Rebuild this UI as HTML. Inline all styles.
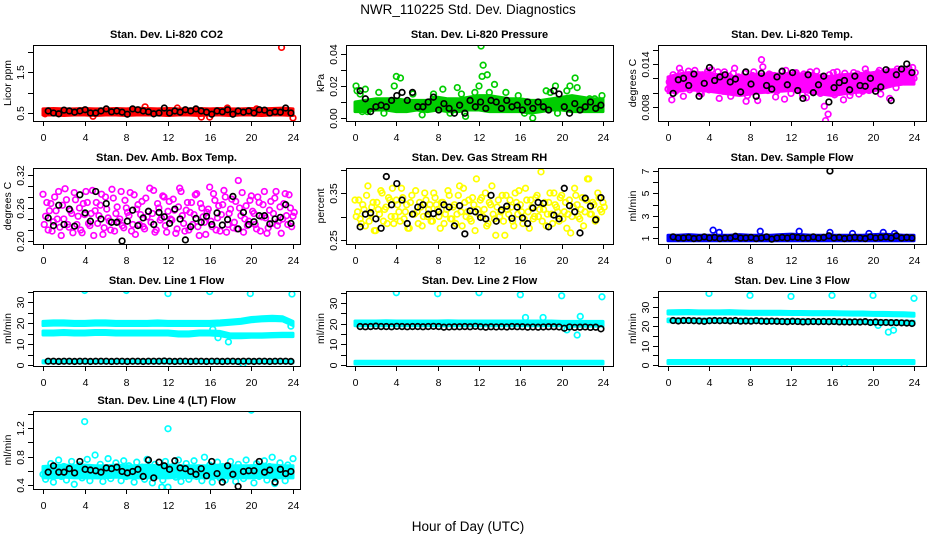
<!DOCTYPE html>
<html><head><meta charset="utf-8">
<style>
html,body{margin:0;padding:0;background:#fff;}
svg{display:block;font-family:"Liberation Sans",Arial,sans-serif;}
</style></head>
<body>
<svg id="chart" width="936" height="540" viewBox="0 0 936 540" xmlns="http://www.w3.org/2000/svg">
<text x="468" y="14" text-anchor="middle" font-size="13.5">NWR_110225  Std. Dev. Diagnostics</text>
<text x="468" y="531" text-anchor="middle" font-size="13.5">Hour of Day (UTC)</text>
</svg>
<script>
// ---------- data ----------
const xTicks=[0,4,8,12,16,20,24];
const xTickLabels=["0","4","8","12","16","20","24"];

// CO2 (ppm)
const co2Lo=[0.45,0.45,0.44,0.45,0.45,0.44,0.45,0.45,0.44,0.45,0.45,0.45,0.44,0.45,0.45,0.44,0.45,0.45,0.44,0.45,0.45,0.44,0.45,0.45,0.44];
const co2Hi=[0.60,0.61,0.60,0.60,0.61,0.60,0.60,0.61,0.60,0.62,0.61,0.60,0.61,0.60,0.60,0.61,0.60,0.61,0.60,0.60,0.61,0.60,0.61,0.62,0.60];
const co2ExX=[0.2,4.8,9.8,12.9,15.2,16.0,20.5,22.9,24.0,17.7];
const co2ExY=[0.48,0.42,0.65,0.62,0.40,0.40,0.60,2.10,0.38,0.62];
const co2Blk=[0.55,0.50,0.48,0.57,0.55,0.52,0.55,0.58,0.50,0.50,0.55,0.60,0.53,0.55,0.52,0.47,0.60,0.58,0.55,0.53,0.48,0.50,0.62,0.50,0.55,0.52,0.58,0.55,0.60,0.55,0.52,0.47,0.55,0.53,0.58,0.47,0.55,0.52,0.55,0.50,0.58,0.57,0.50,0.53,0.52,0.62,0.50];

// Pressure (x0.001 kPa)
const presLo=[4,4,5,5,4,4,5,4,5,4,4,5,5,4,4,4,4,3,4,5,5,4,4,4,4];
const presHi=[10,11,12,12,12,11,11,11,13,12,12,13,14,14,13,12,12,11,11,12,13,14,13,12,12];
const presExX=[0.1,0.2,0.5,0.7,1.0,1.2,2.3,2.8,3.8,4.0,4.4,5.6,6.5,7.6,8.5,9.2,9.9,10.3,10.7,11.6,12.0,12.2,12.3,12.4,12.8,13.0,13.5,14.6,15.8,16.4,17.2,18.5,18.9,19.4,19.6,20.5,20.8,21.3,21.5,22.7,23.2,23.9];
const presExY=[20,17,15,4,18,4,16,3,20,26,25,15,2,15,18,3,19,15,1,16,20,45,26,33,27,16,21,16,14,3,0,17,16,20,3,17,20,25,19,12,12,14];
const presBlk=[17,12,4,7,8,7,11,14,16,11,16,7,7,10,13,5,9,6,3,8,3,11,7,10,6,11,10,6,11,7,8,5,10,6,10,7,5,17,15,7,3,9,5,7,10,6,8];

// Li-820 Temp (x0.001 C)
const tempLo=[10.0,10.2,10.4,10.3,10.2,10.0,9.8,9.6,9.8,10.0,10.1,10.2,10.3,10.2,10.0,9.8,9.6,9.8,10.0,10.1,10.2,10.6,11.0,11.2,11.2];
const tempHi=[12.2,12.6,12.8,12.8,12.6,12.5,12.3,12.2,12.4,12.6,12.6,12.6,12.7,12.6,12.4,12.2,12.3,12.5,12.6,12.6,12.8,13.0,13.2,13.3,13.0];
const tempA=[10.5,11.8,12.5,10.2,11.0,12.8,9.5,11.5,13.0,12.2,10.8,11.6,12.4,9.8,11.9,12.6,10.4,13.2,11.1,12.0,9.2,11.7,12.9,10.6,12.3,11.4,13.4,10.0,12.1,11.3,12.7,9.6,11.8,12.4,10.9,8.9,12.0,13.6,11.2,10.3,12.5,11.0,9.4,12.2,11.6,10.7,13.1,12.3,9.9,11.5,12.8,10.5,11.9,12.6,9.3,11.1,12.4,10.1,13.0,11.7,12.2,8.1,10.8,12.5,11.4,9.7,12.9,11.0,10.3,12.7,11.8,9.6,12.1,10.9,12.6,11.3,10.2,13.3,11.9,12.4,10.6,11.5,12.8,9.8,11.2,12.3,13.0,11.6,12.5,10.7,12.9,13.2,12.1,11.8,13.4,12.6,12.0];
const tempB=[11.5,9.0,12.0,11.0,13.4,10.6,12.3,11.9,10.4,12.6,13.1,11.2,10.0,12.5,11.6,13.0,12.1,10.8,11.4,12.9,11.7,10.2,12.4,11.1,9.5,12.7,11.8,12.2,10.9,11.5,8.8,11.0,10.6,12.9,11.5,12.3,14.6,11.9,10.5,12.6,11.1,12.4,10.2,11.8,12.9,9.1,11.4,12.0,11.3,12.7,10.4,11.9,9.7,12.4,11.6,12.9,10.8,11.3,12.1,9.9,11.5,6.1,7.0,10.5,12.8,11.3,10.6,12.0,9.0,11.4,12.2,10.1,12.8,11.6,9.8,12.4,11.1,12.7,10.3,11.8,12.5,11.0,13.1,10.8,12.2,11.6,9.2,12.9,11.4,13.3,12.0,12.7,11.5,13.0,12.3,13.5,12.8];
const tempBlk=[9.9,11.8,12.0,11.0,12.6,9.5,11.3,13.5,11.7,12.2,12.5,11.5,11.9,10.1,12.9,11.2,9.5,12.7,11.0,10.5,12.2,13.0,11.1,12.8,10.3,9.2,12.5,10.0,11.1,12.3,8.7,10.7,11.4,11.7,10.4,12.3,11.0,10.9,12.0,10.2,10.8,13.2,8.9,12.5,13.3,14.0,12.8];

// Amb box temp (x0.01 C)
const ambA=[28.5,24.5,22.0,26.8,23.5,25.5,29.0,21.0,24.0,27.5,22.5,25.0,28.8,23.0,26.0,21.5,24.8,27.0,22.8,29.2,25.5,23.2,26.5,21.2,28.0,24.2,22.0,27.8,25.0,23.5,29.0,22.4,26.0,24.6,21.8,28.4,25.8,23.0,27.2,22.2,24.4,29.6,25.0,21.6,26.8,23.8,28.2,22.8,25.4,24.0,27.6,21.4,26.2,29.0,23.2,25.6,22.0,27.0,24.8,28.6,21.0,26.0,23.4,25.2,29.8,22.6,27.4,24.2,21.8,26.6,28.0,23.0,25.8,22.4,27.2,31.0,24.6,21.6,26.4,23.6,28.2,25.0,22.2,27.0,24.4,29.0,21.4,25.6,23.2,27.8,22.8,26.2,24.0,28.6,23.0,26.0,24.5];
const ambB=[23.0,27.0,25.5,21.8,28.0,24.0,22.5,26.5,29.5,23.0,25.5,21.5,27.5,24.5,22.0,26.8,29.0,23.2,25.0,21.0,27.0,24.6,28.5,22.4,25.8,23.6,29.4,21.8,26.2,24.0,22.8,27.4,25.2,28.8,23.0,21.2,26.6,24.8,22.6,27.8,25.4,23.4,29.2,22.0,26.0,24.2,28.0,21.6,27.2,23.8,25.6,22.2,29.6,24.6,21.8,27.0,25.2,23.0,28.4,22.6,26.8,24.4,21.2,25.8,23.6,28.6,22.0,26.4,24.8,29.2,21.6,25.0,27.6,23.4,22.2,26.0,28.8,24.0,22.8,27.4,25.4,23.0,28.0,21.8,26.6,24.2,22.4,27.2,25.0,29.0,23.6,21.4,26.8,24.6,28.4,22.6,25.2];
const ambBlk=[24.2,22.8,26.5,23.0,25.8,22.7,28.4,25.1,23.6,29.0,24.0,26.8,23.4,23.4,20.0,23.6,25.6,22.8,24.2,25.4,23.0,25.2,24.4,23.2,25.8,24.0,20.2,22.6,24.1,23.4,24.5,23.0,25.1,22.9,23.9,28.1,22.2,25.2,23.0,23.5,24.6,24.6,23.1,24.0,24.3,26.6,23.2];

// Gas stream RH (x0.01 percent)
const rhA=[33.5,31.0,29.5,32.5,28.0,36.5,30.5,33.0,27.0,31.5,35.5,29.0,32.0,34.0,30.0,28.5,33.5,31.0,36.0,29.5,32.5,27.5,34.5,30.5,31.0,33.0,28.0,35.0,30.0,32.5,29.0,34.0,31.5,27.5,33.0,30.5,35.5,29.5,32.0,28.5,34.5,31.0,36.0,30.0,33.5,29.0,32.5,38.0,30.5,34.0,31.5,28.0,33.0,36.5,29.5,32.0,30.0,34.5,26.0,31.5,33.5,29.0,35.0,30.5,32.5,28.5,36.0,31.0,33.5,29.5,34.0,30.0,39.5,31.5,28.0,33.0,30.5,35.0,32.0,29.0,34.5,31.0,27.5,33.5,30.0,36.0,32.5,29.5,34.0,31.0,38.0,30.5,33.0,29.0,35.0,31.5,33.0];
const rhB=[30.0,33.5,28.5,31.5,34.5,29.0,32.0,27.0,33.0,30.5,35.0,31.5,28.5,33.5,36.0,30.0,32.5,29.0,34.0,31.0,27.5,33.0,30.5,35.5,28.5,32.0,30.0,33.5,31.5,29.0,35.0,32.5,30.0,33.0,28.5,31.5,34.5,29.5,32.5,30.5,36.5,28.0,33.0,31.0,29.5,34.0,27.0,31.5,33.5,30.0,35.0,28.5,32.5,30.5,26.0,33.5,31.0,29.0,34.5,30.5,32.0,28.0,33.0,35.5,31.0,29.5,33.5,27.5,32.0,30.0,34.5,31.5,29.0,33.0,30.5,35.0,28.5,32.5,31.0,34.0,29.5,33.0,30.5,26.5,32.0,34.5,30.0,31.5,28.0,33.5,38.0,30.5,32.5,29.5,34.0,31.0,32.0];
const rhBlk=[27.8,30.5,30.8,29.5,27.5,38.5,32.5,37.0,33.5,28.5,30.5,32.0,32.5,30.5,30.6,31.0,32.5,32.0,28.0,32.3,26.3,31.2,31.0,29.8,29.5,34.5,29.0,31.4,32.2,29.6,32.0,29.7,28.5,31.8,33.0,32.8,27.8,30.3,29.5,36.0,32.3,31.0,26.5,33.9,32.2,29.3,34.0];

// Sample flow
const sfLo=[0.75,0.75,0.75,0.75,0.75,0.75,0.75,0.75,0.75,0.75,0.75,0.75,0.75,0.75,0.75,0.75,0.75,0.75,0.75,0.75,0.75,0.75,0.75,0.75,0.75];
const sfHi=[1.25,1.25,1.3,1.25,1.25,1.25,1.25,1.3,1.25,1.25,1.25,1.3,1.35,1.3,1.25,1.25,1.25,1.25,1.25,1.25,1.3,1.35,1.3,1.25,1.25];
const sfExX=[4.4,5.0,9.0,12.8,15.8,18.0,19.6,21.0,22.1];
const sfExY=[1.7,1.5,1.6,1.6,1.5,1.4,1.4,1.5,1.4];
const sfBlk=[1.1,1.0,1.0,1.05,0.95,1.0,1.1,1.0,1.05,0.95,1.0,1.0,1.15,1.0,1.0,1.05,0.95,1.0,1.1,0.9,1.0,1.05,1.0,1.1,1.05,1.0,1.0,1.1,1.0,1.05,1.2,1.0,1.05,0.95,1.0,1.05,1.0,0.95,1.1,1.0,1.05,1.1,1.0,1.2,1.0,1.05,1.0];
const sfBlkExX=[15.8];
const sfBlkExY=[7.0];

// Line 1 flow
const l1ALo=[18.8,19.0,19.0,18.8,18.8,19.0,19.0,18.8,18.8,18.8,18.8,18.9,18.8,18.8,18.8,18.8,18.8,19.0,19.4,19.8,20.6,21.0,21.2,21.0,18.8];
const l1AHi=[20.8,21.0,21.0,20.8,20.8,21.0,21.0,20.8,20.8,20.8,20.8,21.0,20.8,20.8,20.8,20.8,20.8,21.0,21.4,21.8,22.6,23.0,23.2,23.0,20.8];
const l1BLo=[14.3,14.3,14.5,14.3,14.3,14.5,14.5,14.3,14.3,14.3,14.3,14.3,14.3,13.8,13.8,14.3,14.3,14.0,13.0,13.0,13.2,13.2,13.4,13.5,13.5];
const l1BHi=[16.2,16.2,16.4,16.2,16.2,16.4,16.4,16.2,16.2,16.2,16.2,16.2,16.2,15.8,15.8,16.2,16.2,16.0,14.8,14.8,14.8,14.8,15.0,15.1,15.1];
const l1CLo=[1.0,1.0,1.0,1.0,1.0,1.0,1.0,1.0,1.0,1.0,1.0,1.0,1.0,1.0,1.0,1.0,1.0,1.0,1.0,1.0,1.0,1.0,1.0,1.0,1.0];
const l1CHi=[2.0,2.0,2.0,2.0,2.0,2.0,2.0,2.0,2.0,2.0,2.0,2.0,2.0,2.0,2.0,2.0,2.0,2.0,2.0,2.0,2.0,2.0,2.0,2.0,2.0];
const l1ExX=[4.0,8.0,12.0,16.0,19.9,23.9,16.8,17.8,23.8,16.3,19.2];
const l1ExY=[35.5,35.5,34.0,35.0,34.0,33.8,13.0,11.0,18.5,17.0,0.5];
const l1Blk=[1.8,1.8,1.7,1.8,1.8,1.7,1.8,1.8,1.7,1.8,1.8,1.8,1.7,1.8,1.8,1.7,1.8,1.8,1.7,1.8,1.8,1.8,1.9,1.8,1.7,1.8,1.8,1.7,1.8,1.8,1.7,1.8,1.8,1.7,1.8,1.8,1.7,1.8,1.8,1.7,1.8,1.8,1.7,1.8,1.8,1.8,1.7];

// Line 2 flow
const l2ALo=[19.0,19.0,19.0,19.0,19.0,19.0,19.0,19.0,19.0,19.0,19.0,19.0,19.0,19.0,19.0,19.0,19.0,19.0,19.0,19.0,19.0,18.8,18.8,18.8,18.8];
const l2AHi=[21.3,21.3,21.3,21.4,21.3,21.3,21.3,21.3,21.3,21.4,21.3,21.3,21.3,21.3,21.3,21.3,21.3,21.3,21.3,21.3,21.1,21.1,21.1,21.1,21.1];
const l2CLo=[0.5,0.5,0.5,0.5,0.5,0.5,0.5,0.5,0.5,0.5,0.5,0.5,0.5,0.5,0.5,0.5,0.5,0.5,0.5,0.5,0.5,0.5,0.5,0.5,0.5];
const l2CHi=[1.8,1.8,1.8,1.8,1.8,1.8,1.8,1.8,1.8,1.8,1.8,1.8,1.8,1.8,1.8,1.8,1.8,1.8,1.8,1.8,1.8,1.8,1.8,1.8,1.8];
const l2ExX=[4.0,8.0,12.0,16.0,20.0,23.9,16.5,18.2,21.8,21.5,20.5];
const l2ExY=[35.0,34.5,35.0,34.0,33.5,33.0,23.0,23.0,23.5,14.5,17.0];
const l2Blk=[18.6,18.5,18.6,18.8,18.6,18.6,18.5,18.7,18.6,18.5,18.6,18.6,18.5,18.6,18.7,18.6,18.3,18.4,18.5,18.5,18.6,18.5,18.7,18.5,18.3,18.5,18.4,18.5,18.4,18.6,18.5,18.5,18.3,18.4,18.3,18.4,18.5,18.5,18.4,17.8,18.4,18.2,18.3,18.4,18.2,18.3,17.5];

// Line 3 flow
const l3ALo=[26.4,26.4,26.5,26.4,26.4,26.4,26.4,26.3,26.2,26.2,26.2,26.2,26.1,26.1,26.0,26.0,26.0,25.9,25.8,25.8,25.7,25.6,25.5,25.4,25.2];
const l3AHi=[28.0,28.1,28.2,28.0,28.0,28.0,28.1,27.9,27.8,27.8,27.8,27.8,27.7,27.7,27.6,27.6,27.6,27.5,27.4,27.4,27.2,27.2,27.1,27.0,26.8];
const l3BLo=[22.4,22.4,22.4,22.3,22.3,22.3,22.2,22.2,22.2,22.1,22.1,22.0,22.0,22.0,21.9,21.9,21.8,21.8,21.7,21.7,21.4,21.2,21.2,21.1,21.0];
const l3BHi=[23.8,23.8,23.8,23.7,23.7,23.7,23.6,23.6,23.6,23.5,23.5,23.4,23.4,23.4,23.3,23.3,23.2,23.2,23.1,23.1,22.9,22.8,22.8,22.7,22.6];
const l3CLo=[0.7,0.7,0.7,0.7,0.7,0.7,0.7,0.7,0.7,0.7,0.7,0.7,0.7,0.7,0.7,0.7,0.7,0.7,0.7,0.7,0.7,0.7,0.7,0.7,0.7];
const l3CHi=[2.3,2.3,2.3,2.3,2.3,2.3,2.3,2.3,2.3,2.3,2.3,2.3,2.3,2.3,2.3,2.3,2.3,2.3,2.3,2.3,2.3,2.3,2.3,2.3,2.3];
const l3ExX=[4.0,8.0,12.0,16.0,20.0,24.0,21.5,22.0,20.5,17.2];
const l3ExY=[37.0,36.0,35.5,36.0,36.0,34.5,17.0,18.0,20.5,0.0];
const l3Blk=[23.0,22.8,23.0,23.0,22.9,22.8,22.6,22.9,23.0,22.9,23.0,22.8,23.0,22.7,22.8,22.7,22.9,22.7,22.6,22.7,22.6,22.5,22.4,22.6,22.5,22.3,22.4,22.5,22.4,22.5,22.4,22.5,22.3,22.3,22.2,22.3,22.2,22.4,22.0,22.2,22.0,22.0,21.9,21.9,21.8,21.7,21.5];

// Line 4 (LT) flow
const l4Lo=[0.50,0.50,0.51,0.50,0.50,0.50,0.50,0.51,0.50,0.50,0.50,0.50,0.50,0.51,0.50,0.50,0.50,0.50,0.50,0.50,0.50,0.51,0.50,0.50,0.50];
const l4Hi=[0.66,0.67,0.68,0.67,0.68,0.67,0.67,0.68,0.67,0.67,0.68,0.67,0.68,0.67,0.67,0.67,0.67,0.68,0.67,0.67,0.67,0.68,0.68,0.67,0.67];
const l4A=[0.55,0.48,0.62,0.70,0.44,0.58,0.75,0.52,0.66,0.47,0.60,0.73,0.41,0.57,0.68,0.50,0.64,0.76,0.46,0.59,0.82,0.53,0.69,0.45,0.61,0.77,0.49,0.56,0.71,0.63,0.46,0.74,0.52,0.67,0.58,0.44,0.72,0.55,0.65,0.48,0.76,0.60,0.43,0.69,0.54,0.62,0.47,0.73,0.37,0.58,0.66,0.51,0.75,0.45,0.63,0.70,0.48,0.57,0.74,0.52,0.64,0.46,0.79,0.55,0.68,0.44,0.61,0.72,0.50,0.66,0.47,0.58,0.73,0.53,0.45,0.69,0.62,0.49,0.75,0.56,0.64,0.43,0.70,0.52,0.60,0.74,0.47,0.66,0.79,0.42,0.58,0.71,0.54,0.46,0.68,0.60,0.77];
const l4ExX=[4.0,12.0,20.0,11.4];
const l4ExY=[1.29,1.19,1.45,0.37];
const l4Blk=[0.58,0.67,0.58,0.58,0.63,0.57,0.73,0.62,0.61,0.60,0.58,0.64,0.63,0.65,0.59,0.57,0.59,0.62,0.52,0.75,0.50,0.72,0.67,0.62,0.74,0.64,0.63,0.59,0.55,0.63,0.53,0.73,0.56,0.44,0.67,0.55,0.38,0.59,0.60,0.60,0.73,0.58,0.61,0.44,0.62,0.56,0.59];

// ---------- drawing ----------
const NS="http://www.w3.org/2000/svg";
const svg=document.getElementById('chart');
function mk(tag,attrs,parent){const e=document.createElementNS(NS,tag);for(const k in attrs)e.setAttribute(k,attrs[k]);(parent||svg).appendChild(e);return e;}

const colL=[33,346,658],colR=[300,613,926],colX0=[43,355,668],colX24=[293,603,914];
const rowT=[45,168,291,411],rowB=[121,244,366,489];

let pid=0;
function panel(p){
  pid++;
  const L=colL[p.c],R=colR[p.c],T=rowT[p.r],B=rowB[p.r];
  const xs=h=>colX0[p.c]+(colX24[p.c]-colX0[p.c])*h/24;
  const ys=v=>p.py1+(v-p.v1)*(p.py2-p.py1)/(p.v2-p.v1);
  const g=mk('g',{});
  
  
  const cp=mk('clipPath',{id:'cp'+pid},g);
  mk('rect',{x:L,y:T,width:R-L,height:B-T},cp);
  const t=mk('text',{x:(L+R)/2,y:T-7,'text-anchor':'middle','font-size':'11','font-weight':'bold'},g);
  t.textContent=p.title;
  
  
  const marks=mk('g',{'clip-path':'url(#cp'+pid+')'},g);
  
  
  (p.bands||[]).forEach(b=>{
    let pts=[];
    for(let i=0;i<b[0].length;i++)pts.push(xs(i*24/(b[0].length-1))+','+ys(b[1][i]));
    for(let i=b[0].length-1;i>=0;i--)pts.push(xs(i*24/(b[0].length-1))+','+ys(b[0][i]));
    const pg=mk('polygon',{points:pts.join(' '),fill:p.col,stroke:p.col,'stroke-width':3,'stroke-linejoin':'round'},marks);
    
    
  });
  const circ=(x,y,col)=>{const c=mk('circle',{cx:x,cy:y,r:2.8,fill:'none',stroke:col,'stroke-width':1.7},marks);
    
    };
  (p.scat||[]).forEach((arr,k)=>{arr.forEach((v,i)=>circ(xs(i*24/(arr.length-1)+k*0.12),ys(v),p.col));});
  if(p.exX)p.exX.forEach((x,i)=>circ(xs(x),ys(p.exY[i]),p.col));
  p.blk.forEach((v,i)=>circ(xs(0.5+i*23.3/(p.blk.length-1)),ys(v),'#000'));
  if(p.bexX)p.bexX.forEach((x,i)=>circ(xs(x),ys(p.bexY[i]),'#000'));
  const bx=mk('rect',{x:L+0.5,y:T+0.5,width:R-L,height:B-T,fill:'none',stroke:'#000','stroke-width':1},g);
  
  
  xTicks.forEach((h,i)=>{
    const x=Math.round(xs(h))+0.5;
    mk('line',{x1:x,x2:x,y1:B,y2:B+5,stroke:'#000'},g);
    const tl=mk('text',{x:x,y:B+20,'text-anchor':'middle','font-size':'10.5'},g);
    tl.textContent=xTickLabels[i];
    
    
  });
  p.yt.forEach((v,i)=>{
    const y=Math.round(ys(v))+0.5;
    mk('line',{x1:L-5,x2:L,y1:y,y2:y,stroke:'#000'},g);
    if(p.ytl[i]){
      const tl=mk('text',{x:0,y:0,'text-anchor':'middle','font-size':'10.5',transform:`translate(${L-9},${y}) rotate(-90)`},g);
      tl.textContent=p.ytl[i];
      
      
    }
  });
  const yl=mk('text',{x:0,y:0,'text-anchor':'middle','font-size':'10.5',transform:`translate(${L-22},${(T+B)/2}) rotate(-90)`},g);
  yl.textContent=p.ylab;
  
  
}

panel({name:'co2',title:'Stan. Dev. Li-820 CO2',c:0,r:0,col:'#ff0000',ylab:'Licor ppm',v1:0.5,py1:113,v2:1.5,py2:72,
  yt:[0.5,1,1.5,2],ytl:['0.5','','1.5',''],bands:[[co2Lo,co2Hi]],exX:co2ExX,exY:co2ExY,blk:co2Blk});
panel({name:'pressure',title:'Stan. Dev. Li-820 Pressure',c:1,r:0,col:'#00cd00',ylab:'kPa',v1:0,py1:118,v2:40,py2:54,
  yt:[0,10,20,30,40],ytl:['0.00','','0.02','','0.04'],bands:[[presLo,presHi]],exX:presExX,exY:presExY,blk:presBlk});
panel({name:'li820-temp',title:'Stan. Dev. Li-820 Temp.',c:2,r:0,col:'#ff00ff',ylab:'degrees C',v1:8,py1:107,v2:14,py2:64,
  yt:[8,10,12,14,16],ytl:['0.008','','','0.014',''],bands:[[tempLo,tempHi]],scat:[tempA,tempB],blk:tempBlk});
panel({name:'amb-box-temp',title:'Stan. Dev. Amb. Box Temp.',c:0,r:1,col:'#ff00ff',ylab:'degrees C',v1:20,py1:241,v2:32,py2:175,
  yt:[20,22,24,26,28,30,32],ytl:['0.20','','','0.26','','','0.32'],scat:[ambA,ambB],blk:ambBlk});
panel({name:'gas-stream-rh',title:'Stan. Dev. Gas Stream RH',c:1,r:1,col:'#ffff00',ylab:'percent',v1:25,py1:240,v2:35,py2:193,
  yt:[25,30,35,40],ytl:['0.25','','0.35',''],scat:[rhA,rhB],blk:rhBlk});
panel({name:'sample-flow',title:'Stan. Dev. Sample Flow',c:2,r:1,col:'#0000ff',ylab:'ml/min',v1:1,py1:238,v2:7,py2:171,
  yt:[1,2,3,4,5,6,7],ytl:['1','','3','','5','','7'],bands:[[sfLo,sfHi]],exX:sfExX,exY:sfExY,blk:sfBlk,bexX:sfBlkExX,bexY:sfBlkExY});
panel({name:'line1-flow',title:'Stan. Dev. Line 1 Flow',c:0,r:2,col:'#00ffff',ylab:'ml/min',v1:0,py1:365,v2:30,py2:302,
  yt:[0,5,10,15,20,25,30,35],ytl:['0','','10','','20','','30',''],bands:[[l1ALo,l1AHi],[l1BLo,l1BHi],[l1CLo,l1CHi]],exX:l1ExX,exY:l1ExY,blk:l1Blk});
panel({name:'line2-flow',title:'Stan. Dev. Line 2 Flow',c:1,r:2,col:'#00ffff',ylab:'ml/min',v1:0,py1:365,v2:30,py2:303,
  yt:[0,5,10,15,20,25,30,35],ytl:['0','','10','','20','','30',''],bands:[[l2ALo,l2AHi],[l2CLo,l2CHi]],exX:l2ExX,exY:l2ExY,blk:l2Blk});
panel({name:'line3-flow',title:'Stan. Dev. Line 3 Flow',c:2,r:2,col:'#00ffff',ylab:'ml/min',v1:0,py1:365,v2:30,py2:307,
  yt:[0,5,10,15,20,25,30,35],ytl:['0','','10','','20','','30',''],bands:[[l3ALo,l3AHi],[l3BLo,l3BHi],[l3CLo,l3CHi]],exX:l3ExX,exY:l3ExY,blk:l3Blk});
panel({name:'line4-flow',title:'Stan. Dev. Line 4 (LT) Flow',c:0,r:3,col:'#00ffff',ylab:'ml/min',v1:0.4,py1:485,v2:1.2,py2:428,
  yt:[0.4,0.6,0.8,1.0,1.2,1.4],ytl:['0.4','','0.8','','1.2',''],bands:[[l4Lo,l4Hi]],scat:[l4A],exX:l4ExX,exY:l4ExY,blk:l4Blk});
</script>
</body></html>
